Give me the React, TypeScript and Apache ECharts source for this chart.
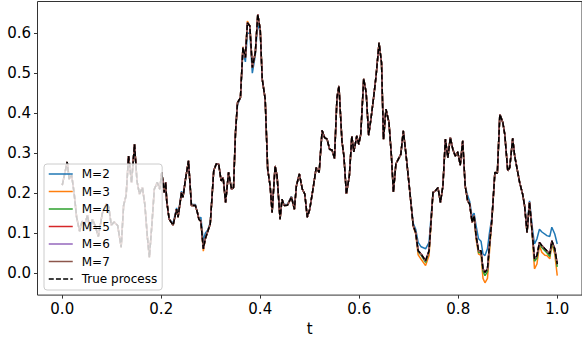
import React, { useEffect, useRef } from "react";
import * as echarts from "echarts";

const seriesNames = ["M=2", "M=3", "M=4", "M=5", "M=6", "M=7", "True process"];
const seriesColors = ["#1f77b4", "#ff7f0e", "#2ca02c", "#d62728", "#9467bd", "#8c564b", "#000000"];
const xTickValues = [0, 0.2, 0.4, 0.6, 0.8, 1.0];
const yTickValues = [0, 0.1, 0.2, 0.3, 0.4, 0.5, 0.6];

const tValues = [
  0.000,0.010,0.014,0.019,0.024,0.029,0.035,0.040,0.045,0.051,
  0.056,0.061,0.066,0.073,0.081,0.089,0.094,0.099,0.105,0.112,
  0.119,0.124,0.129,0.134,0.140,0.146,0.151,0.156,0.162,0.167,
  0.172,0.176,0.181,0.186,0.192,0.197,0.201,0.206,0.209,0.211,
  0.216,0.224,0.231,0.234,0.241,0.244,0.249,0.255,0.261,0.269,
  0.273,0.276,0.280,0.285,0.289,0.294,0.299,0.306,0.311,0.316,
  0.321,0.325,0.330,0.336,0.342,0.346,0.350,0.354,0.360,0.365,
  0.370,0.374,0.379,0.384,0.390,0.395,0.400,0.404,0.410,0.415,
  0.420,0.424,0.430,0.434,0.440,0.444,0.448,0.455,0.463,0.469,
  0.473,0.479,0.485,0.490,0.495,0.500,0.507,0.513,0.519,0.525,
  0.530,0.535,0.540,0.545,0.550,0.555,0.559,0.565,0.569,0.574,
  0.580,0.585,0.589,0.595,0.599,0.603,0.609,0.614,0.619,0.624,
  0.629,0.634,0.640,0.645,0.649,0.654,0.660,0.665,0.669,0.674,
  0.679,0.684,0.689,0.694,0.701,0.709,0.714,0.719,0.725,0.734,
  0.741,0.749,0.754,0.759,0.764,0.769,0.774,0.779,0.784,0.789,
  0.794,0.799,0.804,0.809,0.814,0.819,0.823,0.828,0.832,0.836,
  0.841,0.846,0.850,0.854,0.859,0.863,0.868,0.874,0.879,0.884,
  0.890,0.894,0.900,0.904,0.910,0.914,0.919,0.924,0.930,0.934,
  0.939,0.944,0.950,0.954,0.959,0.964,0.969,0.975,0.979,0.985,
  0.989,0.995,1.000,
];

const trueValues = [
  0.220,0.278,0.235,0.245,0.200,0.140,0.105,0.130,0.120,0.145,
  0.105,0.135,0.120,0.092,0.150,0.173,0.165,0.120,0.128,0.119,
  0.065,0.170,0.194,0.293,0.227,0.322,0.230,0.198,0.214,0.170,
  0.090,0.040,0.120,0.210,0.227,0.210,0.252,0.202,0.227,0.181,
  0.135,0.120,0.160,0.140,0.202,0.190,0.235,0.281,0.169,0.169,
  0.152,0.135,0.130,0.061,0.086,0.105,0.123,0.256,0.273,0.273,
  0.231,0.239,0.177,0.252,0.210,0.214,0.352,0.426,0.439,0.564,
  0.539,0.626,0.618,0.514,0.551,0.647,0.609,0.485,0.435,0.260,
  0.218,0.152,0.268,0.243,0.135,0.185,0.169,0.170,0.190,0.160,
  0.218,0.248,0.210,0.198,0.140,0.160,0.214,0.264,0.252,0.357,
  0.339,0.335,0.310,0.308,0.287,0.439,0.468,0.331,0.293,0.198,
  0.243,0.343,0.303,0.343,0.322,0.347,0.486,0.451,0.345,0.389,
  0.439,0.493,0.576,0.526,0.335,0.410,0.377,0.293,0.203,0.273,
  0.285,0.297,0.356,0.302,0.218,0.119,0.102,0.056,0.048,0.031,
  0.056,0.202,0.206,0.214,0.177,0.218,0.335,0.289,0.339,0.310,
  0.293,0.303,0.270,0.331,0.218,0.181,0.173,0.127,0.144,0.094,
  0.056,0.056,0.011,0.002,0.011,0.069,0.135,0.252,0.250,0.397,
  0.377,0.347,0.256,0.264,0.337,0.293,0.260,0.227,0.198,0.169,
  0.102,0.177,0.094,0.036,0.044,0.077,0.069,0.061,0.056,0.048,
  0.081,0.061,0.023,
];

const m2Values = [
  0.220,0.278,0.235,0.245,0.200,0.140,0.105,0.130,0.120,0.145,
  0.105,0.135,0.120,0.092,0.150,0.173,0.165,0.120,0.128,0.119,
  0.065,0.170,0.194,0.293,0.227,0.322,0.230,0.198,0.214,0.170,
  0.090,0.040,0.120,0.210,0.227,0.210,0.252,0.202,0.227,0.181,
  0.135,0.125,0.163,0.145,0.205,0.193,0.235,0.281,0.172,0.172,
  0.152,0.135,0.140,0.080,0.100,0.108,0.126,0.256,0.273,0.273,
  0.231,0.239,0.177,0.252,0.210,0.214,0.352,0.420,0.439,0.555,
  0.528,0.600,0.600,0.500,0.545,0.626,0.600,0.485,0.435,0.260,
  0.218,0.152,0.268,0.243,0.135,0.185,0.172,0.172,0.192,0.162,
  0.218,0.248,0.210,0.198,0.140,0.160,0.214,0.264,0.252,0.357,
  0.339,0.335,0.310,0.308,0.287,0.439,0.468,0.331,0.293,0.198,
  0.243,0.343,0.303,0.343,0.322,0.347,0.486,0.451,0.345,0.389,
  0.439,0.493,0.576,0.526,0.335,0.410,0.377,0.293,0.203,0.273,
  0.285,0.297,0.356,0.302,0.218,0.125,0.110,0.077,0.066,0.061,
  0.077,0.202,0.206,0.214,0.177,0.218,0.335,0.289,0.339,0.310,
  0.293,0.303,0.270,0.331,0.218,0.194,0.180,0.140,0.150,0.119,
  0.086,0.080,0.048,0.044,0.061,0.100,0.140,0.252,0.250,0.397,
  0.377,0.347,0.256,0.264,0.337,0.293,0.260,0.227,0.198,0.169,
  0.119,0.181,0.110,0.073,0.086,0.110,0.103,0.098,0.094,0.092,
  0.115,0.098,0.073,
];

const m3Values = [
  0.220,0.278,0.235,0.245,0.200,0.140,0.105,0.130,0.120,0.145,
  0.105,0.135,0.120,0.092,0.150,0.173,0.165,0.120,0.128,0.119,
  0.065,0.170,0.194,0.293,0.227,0.322,0.230,0.198,0.214,0.170,
  0.090,0.040,0.120,0.210,0.227,0.210,0.252,0.202,0.227,0.181,
  0.135,0.120,0.160,0.140,0.202,0.190,0.235,0.281,0.169,0.169,
  0.152,0.135,0.130,0.055,0.086,0.105,0.123,0.256,0.273,0.273,
  0.231,0.239,0.177,0.252,0.210,0.214,0.352,0.426,0.439,0.566,
  0.539,0.630,0.618,0.514,0.551,0.647,0.609,0.485,0.435,0.260,
  0.218,0.152,0.268,0.243,0.135,0.185,0.169,0.170,0.190,0.160,
  0.218,0.248,0.210,0.198,0.140,0.160,0.214,0.264,0.252,0.357,
  0.339,0.335,0.310,0.308,0.287,0.439,0.468,0.331,0.293,0.198,
  0.243,0.343,0.303,0.343,0.322,0.347,0.486,0.451,0.345,0.389,
  0.439,0.493,0.576,0.526,0.335,0.410,0.377,0.293,0.203,0.273,
  0.285,0.297,0.356,0.302,0.218,0.117,0.098,0.046,0.035,0.019,
  0.044,0.202,0.206,0.214,0.177,0.218,0.335,0.289,0.339,0.310,
  0.293,0.303,0.270,0.331,0.218,0.181,0.173,0.127,0.140,0.085,
  0.048,0.045,-0.013,-0.024,-0.013,0.052,0.133,0.252,0.250,0.397,
  0.377,0.347,0.256,0.264,0.337,0.293,0.260,0.227,0.198,0.169,
  0.102,0.177,0.086,0.011,0.023,0.069,0.052,0.045,0.044,0.036,
  0.073,0.048,-0.006,
];

const m4Values = [
  0.220,0.278,0.235,0.245,0.200,0.140,0.105,0.130,0.120,0.145,
  0.105,0.135,0.120,0.092,0.150,0.173,0.165,0.120,0.128,0.119,
  0.065,0.170,0.194,0.293,0.227,0.322,0.230,0.198,0.214,0.170,
  0.090,0.040,0.120,0.210,0.227,0.210,0.252,0.202,0.227,0.181,
  0.135,0.120,0.160,0.140,0.202,0.190,0.235,0.281,0.169,0.169,
  0.152,0.135,0.130,0.061,0.086,0.105,0.123,0.256,0.273,0.273,
  0.231,0.239,0.177,0.252,0.210,0.214,0.352,0.426,0.439,0.564,
  0.539,0.626,0.618,0.514,0.551,0.647,0.609,0.485,0.435,0.260,
  0.218,0.152,0.268,0.243,0.135,0.185,0.169,0.170,0.190,0.160,
  0.218,0.248,0.210,0.198,0.140,0.160,0.214,0.264,0.252,0.357,
  0.339,0.335,0.310,0.308,0.287,0.439,0.468,0.331,0.293,0.198,
  0.243,0.343,0.303,0.343,0.322,0.347,0.486,0.451,0.345,0.389,
  0.439,0.493,0.576,0.526,0.335,0.410,0.377,0.293,0.203,0.273,
  0.285,0.297,0.356,0.302,0.218,0.119,0.102,0.054,0.045,0.027,
  0.054,0.202,0.206,0.214,0.177,0.218,0.335,0.289,0.339,0.310,
  0.293,0.303,0.270,0.331,0.218,0.181,0.173,0.127,0.144,0.092,
  0.052,0.052,0.005,-0.006,0.004,0.065,0.135,0.252,0.250,0.397,
  0.377,0.347,0.256,0.264,0.337,0.293,0.260,0.227,0.198,0.169,
  0.102,0.177,0.090,0.030,0.038,0.074,0.064,0.056,0.051,0.042,
  0.076,0.055,0.016,
];

// In the picture, M=5, M=6 and M=7 coincide with the true process.
const m5Values = trueValues;
const m6Values = trueValues;
const m7Values = trueValues;

const valueLists = [m2Values, m3Values, m4Values, m5Values, m6Values, m7Values, trueValues];

const FONT = "DejaVu Sans";

export default function App() {
  const ref = useRef<HTMLDivElement>(null);

  useEffect(() => {
    if (!ref.current) return;
    const chart = echarts.init(ref.current, undefined, { renderer: "svg" });

    const series = seriesNames.map((name, si) => {
      const isTrue = si === seriesNames.length - 1;
      return {
        name,
        type: "line",
        data: tValues.map((t, i) => [t, valueLists[si][i]]),
        showSymbol: false,
        symbol: "none",
        lineStyle: {
          color: seriesColors[si],
          width: 1.5,
          type: isTrue ? [5, 2.2] : "solid",
        },
        itemStyle: { color: seriesColors[si] },
      };
    });

    chart.setOption({
      animation: false,
      grid: {
        left: 37.5,
        top: 1.5,
        width: 548.5,
        height: 295,
        show: true,
        borderColor: "#333",
        borderWidth: 1,
        containLabel: false,
      },
      legend: {
        orient: "vertical",
        left: 44,
        top: 164,
        z: 20,
        data: seriesNames,
        itemWidth: 24,
        itemHeight: 12,
        itemGap: 5.5,
        padding: [4, 5, 5, 4],
        backgroundColor: "rgba(255,255,255,0.8)",
        borderColor: "#cccccc",
        borderWidth: 1,
        borderRadius: 3,
        itemStyle: { opacity: 0 },
        lineStyle: { width: 1.5 },
        textStyle: {
          fontFamily: FONT,
          fontSize: 12,
          color: "#000",
          padding: [0, 0, 0, 4],
        },
      },
      xAxis: {
        type: "value",
        min: -0.05,
        max: 1.05,
        name: "t",
        nameLocation: "middle",
        nameGap: 24,
        nameTextStyle: { fontFamily: FONT, fontSize: 15, color: "#000" },
        axisLine: { show: false, onZero: false },
        splitLine: { show: false },
        axisTick: {
          show: true,
          length: 3.5,
          lineStyle: { color: "#333", width: 1 },
          customValues: xTickValues,
        },
        axisLabel: {
          fontFamily: FONT,
          fontSize: 15,
          color: "#000",
          margin: 6,
          customValues: xTickValues,
          formatter: (v: number) => v.toFixed(1),
        },
      },
      yAxis: {
        type: "value",
        min: -0.0547,
        max: 0.6791,
        axisLine: { show: false, onZero: false },
        splitLine: { show: false },
        axisTick: {
          show: true,
          length: 3.5,
          lineStyle: { color: "#333", width: 1 },
          customValues: yTickValues,
        },
        axisLabel: {
          fontFamily: FONT,
          fontSize: 15,
          color: "#000",
          margin: 6.5,
          customValues: yTickValues,
          formatter: (v: number) => v.toFixed(1),
        },
      },
      series,
    });

    return () => chart.dispose();
  }, []);

  return (
    <div
      ref={ref}
      style={{ position: "fixed", left: 0, top: 0, width: 582, height: 341, background: "#fff" }}
    />
  );
}
